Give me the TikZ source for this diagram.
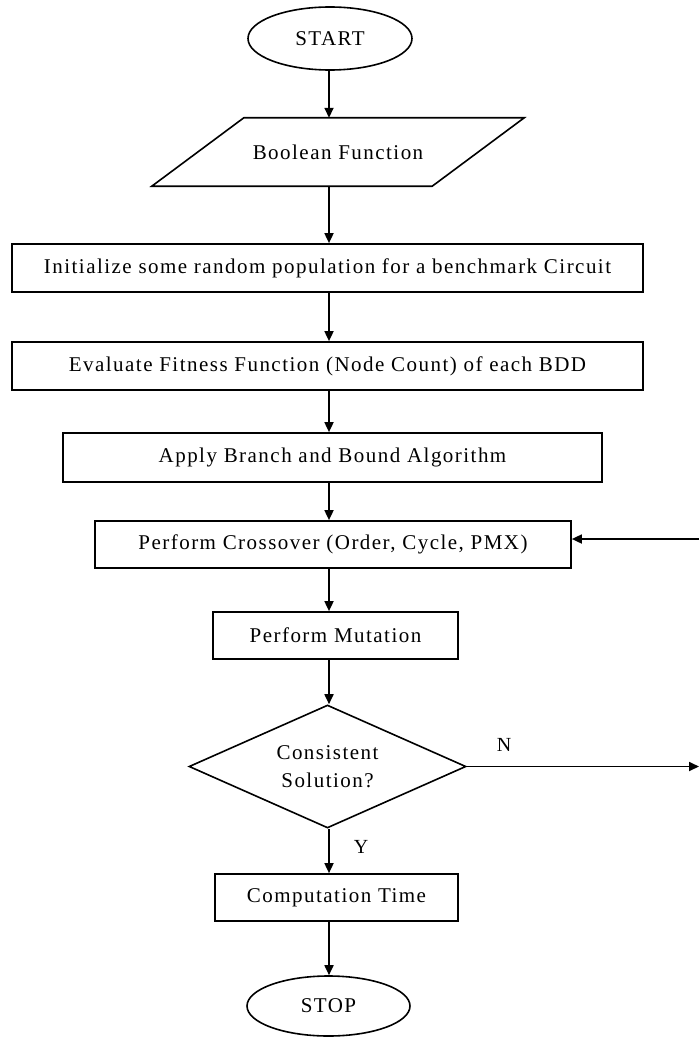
\documentclass[tikz,border=0pt]{standalone}
\usepackage{fontspec}
\setmainfont{Liberation Serif}[LetterSpace=7]
\usetikzlibrary{arrows.meta,shapes.geometric}
\begin{document}
\begin{tikzpicture}[x=1pt,y=-1pt,
  every node/.style={font=\fontsize{21}{28}\selectfont, text=black, align=center, inner sep=0pt},
  box/.style={draw, line width=1.7pt, rectangle},
  term/.style={draw, line width=1.6pt, ellipse},
  decide/.style={draw, line width=1.6pt, diamond, aspect=2.25},
  arr/.style={line width=1.7pt, -{Triangle[length=10pt,width=9pt]}},
  lbl/.style={font=\fontsize{20}{24}\selectfont}]
  \useasboundingbox (0,0) rectangle (699,1038);
  \fill[white] (0,0) rectangle (699,1038);
  \coordinate (axis) at (329,0);

  % terminals, process boxes and the decision
  \node[term, minimum width=164pt, minimum height=63pt] (start) at (330,38.5) {START};
  \node[minimum width=280pt, minimum height=68pt] (bool) at (338,152) {Boolean Function};
  \draw[line width=1.6pt] ([xshift=46pt]bool.north west) -- ([xshift=46pt]bool.north east)
     -- ([xshift=-46pt]bool.south east) -- ([xshift=-46pt]bool.south west) -- cycle;
  \node[box, minimum width=631pt, minimum height=48pt] (init) at (327.5,268)
     {Initialize some random population for a benchmark Circuit};
  \node[box, minimum width=631pt, minimum height=48pt] (eval) at (327.5,366)
     {Evaluate Fitness Function (Node Count) of each BDD};
  \node[box, minimum width=539pt, minimum height=49pt] (apply) at (332.5,457.5)
     {Apply Branch and Bound Algorithm};
  \node[box, minimum width=476pt, minimum height=47pt] (cross) at (333,544.5)
     {Perform Crossover (Order, Cycle, PMX)};
  \node[box, minimum width=245pt, minimum height=47pt] (mut) at (335.5,635.5)
     {Perform Mutation};
  \node[decide, minimum width=277pt, minimum height=123pt] (dec) at (327.5,766.5)
     {Consistent\\Solution?};
  \node[box, minimum width=243pt, minimum height=47pt] (comp) at (336.5,897.5)
     {Computation Time};
  \node[term, minimum width=163pt, minimum height=60pt] (stop) at (328.5,1006) {STOP};

  % main flow
  \draw[arr] (start.south -| axis) -- (bool.north -| axis);
  \draw[arr] (bool.south -| axis) -- (init.north -| axis);
  \draw[arr] (init.south -| axis) -- (eval.north -| axis);
  \draw[arr] (eval.south -| axis) -- (apply.north -| axis);
  \draw[arr] (apply.south -| axis) -- (cross.north -| axis);
  \draw[arr] (cross.south -| axis) -- (mut.north -| axis);
  \draw[arr] (mut.south -| axis) -- (dec.north -| axis);
  \draw[arr] (dec.south -| axis) -- (comp.north -| axis);
  \draw[arr] (comp.south -| axis) -- (stop.north -| axis);

  % loop back on "N"
  \coordinate (nout) at (699,766.5);
  \coordinate (nback) at (699,539);
  \draw[arr] (dec.east) -- (nout);
  \draw[arr] (nback) -- (nback -| cross.east);

  % branch labels
  \node[lbl] (ylab) at (361,847) {Y};
  \node[lbl] (nlab) at (504,745) {N};
\end{tikzpicture}
\end{document}
